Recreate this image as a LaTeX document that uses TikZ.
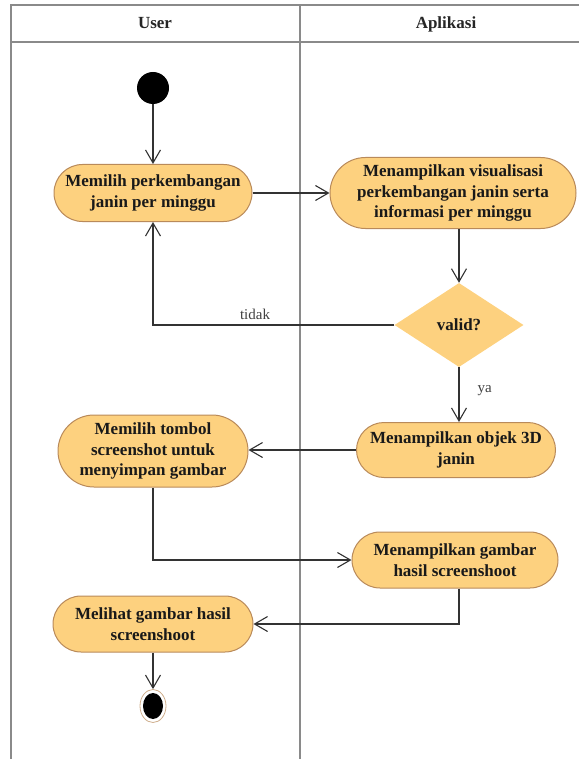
\documentclass[tikz,border=0pt]{standalone}
\usepackage{fontspec}
\setmainfont{Liberation Serif}
\usetikzlibrary{shapes.misc,shapes.geometric,arrows.meta}
\definecolor{actfill}{HTML}{FDD17F}
\definecolor{actdraw}{HTML}{B98A5A}
\definecolor{lanegray}{HTML}{8A8A8A}
\definecolor{flowgray}{HTML}{333333}
\tikzset{
  act/.style={rounded rectangle, fill=actfill, draw=actdraw, line width=1pt, align=center,
    inner sep=2pt, text=black!90, font=\bfseries\fontsize{17}{20.5}\selectfont},
  dec/.style={diamond, fill=actfill, draw=none, inner sep=0pt, text=black!90,
    font=\bfseries\fontsize{17}{20.5}\selectfont},
  flow/.style={draw=flowgray, line width=1.1pt, -{Straight Barb[length=13pt,width=15pt,line width=1.1pt]}},
  lane/.style={draw=lanegray, line width=1.6pt},
  lbl/.style={font=\fontsize{15}{18}\selectfont, text=black!75},
  hdr/.style={font=\bfseries\fontsize{17}{20}\selectfont, text=black!85, anchor=base}
}
\begin{document}
\begin{tikzpicture}[x=1pt,y=-1pt]
\useasboundingbox (0,0) rectangle (579,759);
% swimlanes
\draw[lane] (11,759) -- (11,5) -- (579,5);
\draw[lane] (11,42) -- (579,42);
\draw[lane] (300,5) -- (300,759);
\node[hdr] (hu) at (155,29) {User};
\node[hdr] (ha) at (446,29) {Aplikasi};
% nodes
\node[circle, fill=black, minimum size=32pt, inner sep=0pt] (start) at (153,88) {};
\node[act, minimum width=202pt, minimum height=57pt] (a1) at (153,193) {Memilih perkembangan\\janin per minggu};
\node[act, minimum width=250pt, minimum height=71pt] (a2) at (453,193) {Menampilkan visualisasi\\perkembangan janin serta\\informasi per minggu};
\node[dec, minimum width=129pt, minimum height=84pt] (d) at (459,325) {valid?};
\node[act, minimum width=203pt, minimum height=55pt] (a3) at (456,450) {Menampilkan objek 3D\\janin};
\node[act, minimum width=194pt, minimum height=72pt] (a4) at (153,451) {Memilih tombol\\screenshot untuk\\menyimpan gambar};
\node[act, minimum width=210pt, minimum height=56pt] (a5) at (455,560) {Menampilkan gambar\\hasil screenshoot};
\node[act, minimum width=204pt, minimum height=56pt] (a6) at (153,624) {Melihat gambar hasil\\screenshoot};
\node[ellipse, draw=actdraw!70, line width=0.8pt, fill=white, minimum width=26pt, minimum height=33pt, inner sep=0pt] (end) at (153,706) {};
\fill[black] (end.center) ellipse [x radius=10pt, y radius=13pt];
\coordinate (tk) at (153,325);
% connectors
\draw[flow] (start) -- (a1.north);
\draw[flow] (a1.east) -- (a2.west);
\draw[flow] (a2.south -| d.north) -- (d.north);
\draw[flow] (d.west) -- (tk) -- (a1.south);
\node[lbl, anchor=south] (ltidak) at (255,323) {tidak};
\draw[flow] (d.south) -- (a3.north -| d.south);
\node[lbl, anchor=west] (lya) at (474,391) {ya};
\draw[flow] (a3.west) -- (a4.east |- a3.west);
\draw[flow] (a4.south) |- (a5.west);
\draw[flow] (a5.south -| d.south) |- (a6.east);
\draw[flow] (a6.south) -- (end.north);
\end{tikzpicture}
\end{document}
